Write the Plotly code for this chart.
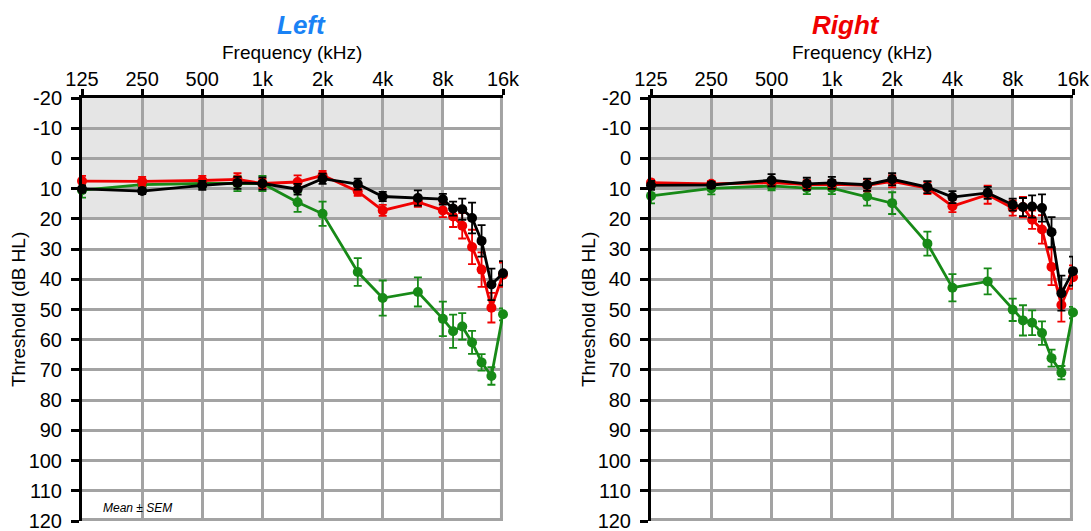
import math
import plotly.graph_objects as go

W, H = 1091, 531

freqs = [125, 250, 500, 750, 1000, 1500, 2000, 3000, 4000, 6000, 8000, 9000, 10000, 11200, 12500, 14000, 16000]

green_L = [10.5, 8.7, 8.3, 8.3, 8.3, 14.5, 18.3, 37.6, 46.2, 44.2, 53.1, 57.2, 55.6, 60.9, 67.5, 72.0, 51.6]
green_L_err = [2.5, 1.5, 1.5, 2.5, 2.5, 3.2, 4.0, 4.6, 5.8, 4.8, 5.7, 5.5, 4.4, 3.8, 2.7, 2.9, 2.0]
red_L = [7.5, 7.6, 7.3, 6.9, 8.3, 7.8, 5.6, 10.9, 17.2, 14.4, 17.2, 19.2, 22.3, 29.3, 36.8, 49.4, 38.5]
red_L_err = [1.7, 1.5, 1.5, 2.0, 1.5, 2.2, 1.5, 1.5, 1.8, 1.6, 2.2, 3.5, 4.2, 5.7, 5.7, 4.9, 4.0]
black_L = [10.1, 10.8, 8.9, 8.1, 8.3, 10.2, 6.7, 8.5, 12.6, 13.1, 13.5, 16.6, 16.8, 19.7, 27.3, 41.7, 38.0]
black_L_err = [1.2, 1.0, 1.5, 2.0, 2.0, 1.8, 1.7, 1.8, 1.5, 2.5, 1.8, 2.3, 3.5, 5.1, 5.2, 5.2, 4.0]

green_R = [12.4, 9.9, 9.1, 9.8, 9.8, 12.6, 14.8, 28.2, 42.8, 40.7, 50.1, 53.6, 54.4, 57.8, 66.1, 70.9, 51.0]
green_R_err = [2.5, 2.0, 1.5, 2.0, 2.0, 3.0, 3.6, 4.0, 4.5, 4.3, 3.7, 5.0, 4.1, 3.9, 2.8, 2.2, 1.9]
red_R = [8.0, 8.4, 8.0, 8.7, 8.6, 8.9, 7.6, 9.8, 15.8, 12.0, 16.4, 16.1, 20.3, 23.5, 35.9, 48.5, 39.3]
red_R_err = [1.0, 1.0, 1.0, 1.5, 1.5, 2.0, 2.0, 2.0, 2.0, 3.0, 2.5, 3.4, 3.0, 4.7, 6.0, 5.5, 3.9]
black_R = [8.9, 8.8, 7.2, 8.4, 8.1, 8.7, 6.9, 9.5, 12.8, 11.4, 15.3, 16.1, 15.9, 16.4, 24.4, 44.6, 37.3]
black_R_err = [1.5, 1.0, 2.0, 2.0, 2.0, 2.0, 2.0, 2.0, 2.0, 2.0, 2.0, 3.0, 3.7, 4.5, 5.0, 5.8, 4.8]

x_tickvals = [125, 250, 500, 1000, 2000, 4000, 8000, 16000]
x_ticktext = ["125", "250", "500", "1k", "2k", "4k", "8k", "16k"]
y_tickvals = list(range(-20, 121, 10))
y_ticktext = [str(v) for v in y_tickvals]

GREEN = "#178a17"
RED = "#f00000"
BLACK = "#000000"
GRID = "#a3a3a3"
FONT = "Liberation Sans, Arial, sans-serif"

fig = go.Figure()

panels = [
    ("x", "y", [(green_L, green_L_err, GREEN), (red_L, red_L_err, RED), (black_L, black_L_err, BLACK)]),
    ("x2", "y2", [(green_R, green_R_err, GREEN), (red_R, red_R_err, RED), (black_R, black_R_err, BLACK)]),
]

for xa, ya, series in panels:
    fig.add_shape(type="rect", xref=xa, yref=ya, x0=125, x1=8000, y0=-20, y1=20,
                  fillcolor="#e5e5e5", line=dict(width=0), layer="below")
    # gray right and bottom frame (slightly inside so it is not clipped)
    fig.add_shape(type="line", xref=xa, yref=ya, x0=15720, x1=15720, y0=-20, y1=120,
                  line=dict(color=GRID, width=3), layer="below")
    fig.add_shape(type="line", xref=xa, yref=ya, x0=125, x1=16000, y0=119.5, y1=119.5,
                  line=dict(color=GRID, width=3), layer="below")
    for vals, errs, col in series:
        fig.add_trace(go.Scatter(
            x=freqs, y=vals, xaxis=xa, yaxis=ya, mode="lines+markers",
            line=dict(color=col, width=2.8),
            marker=dict(color=col, size=10),
            error_y=dict(type="data", array=errs, visible=True, color=col, thickness=1.8, width=4),
            showlegend=False, cliponaxis=False,
        ))

xr = [math.log10(125) - 1e-6, math.log10(16000) + 1e-6]

ax_common = dict(
    type="log", range=xr, side="top",
    tickvals=x_tickvals, ticktext=x_ticktext,
    ticks="outside", ticklen=6, tickwidth=3, tickcolor="black",
    showline=True, linecolor="black", linewidth=3,
    showgrid=True, gridcolor=GRID, gridwidth=3,
    tickfont=dict(family=FONT, size=20, color="black"),
    zeroline=False, fixedrange=True, automargin=False,
    ticklabeloverflow="allow", ticklabelstandoff=-5,
)
ay_common = dict(
    range=[120, -20], tickvals=y_tickvals, ticktext=y_ticktext,
    ticks="outside", ticklen=8, tickwidth=3, tickcolor="black",
    showline=True, linecolor="black", linewidth=3,
    showgrid=True, gridcolor=GRID, gridwidth=3,
    tickfont=dict(family=FONT, size=20, color="black"),
    zeroline=False, fixedrange=True, automargin=False,
    ticklabeloverflow="allow", ticklabelstandoff=5,
)

ML, MR, MT, MB = 82, 18, 98, 10
PW = W - ML - MR
PH = H - MT - MB
xd1 = [0, (503 - ML) / PW]
xd2 = [(651 - ML) / PW, 1]


def px(x):
    return (x - ML) / PW


def py(y):
    return (H - MB - y) / PH


fig.update_layout(
    width=W, height=H,
    margin=dict(l=ML, r=MR, t=MT, b=MB, autoexpand=False),
    paper_bgcolor="white", plot_bgcolor="white",
    xaxis=dict(domain=xd1, anchor="y", **ax_common),
    yaxis=dict(domain=[0, 1], anchor="x", **ay_common),
    xaxis2=dict(domain=xd2, anchor="y2", **ax_common),
    yaxis2=dict(domain=[0, 1], anchor="x2", **ay_common),
)

annos = [
    dict(x=px(301), y=py(25), text="<b><i>Left</i></b>", font=dict(family=FONT, size=26, color="#1a82f5")),
    dict(x=px(846), y=py(25), text="<b><i>Right</i></b>", font=dict(family=FONT, size=26, color="#f00000")),
    dict(x=px(292), y=py(52), text="Frequency (kHz)", font=dict(family=FONT, size=19, color="black")),
    dict(x=px(862), y=py(52), text="Frequency (kHz)", font=dict(family=FONT, size=19, color="black")),
    dict(x=px(18), y=py(310), text="Threshold (dB HL)", textangle=-90, font=dict(family=FONT, size=19, color="black")),
    dict(x=px(588), y=py(310), text="Threshold (dB HL)", textangle=-90, font=dict(family=FONT, size=19, color="black")),
    dict(x=px(137), y=py(508), text="<i>Mean ± SEM</i>", font=dict(family=FONT, size=12, color="black")),
]
for a in annos:
    fig.add_annotation(xref="paper", yref="paper", showarrow=False, xanchor="center", yanchor="middle", **a)

fig.write_html("out.html", config={"displayModeBar": False},
               post_script="document.body.style.margin='0';document.body.style.overflow='hidden';")
